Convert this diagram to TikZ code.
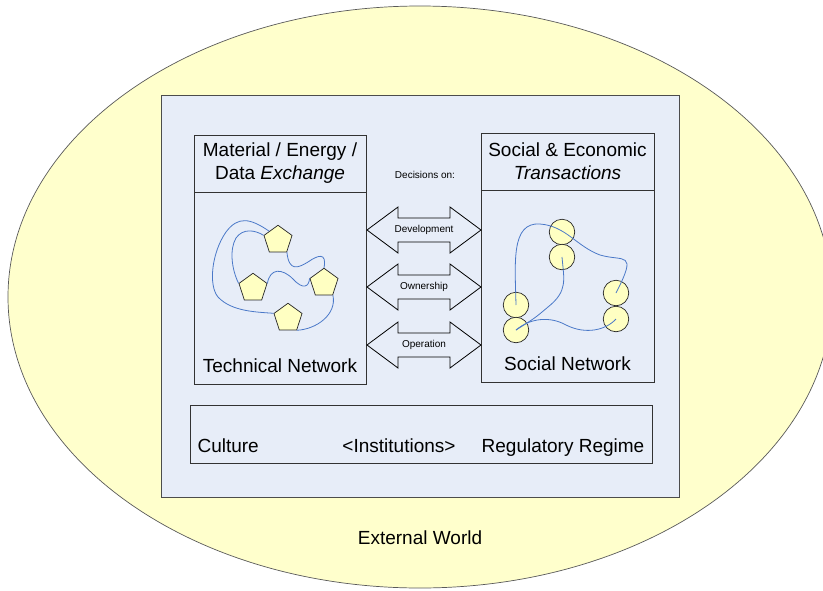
\documentclass[tikz,border=0pt]{standalone}
\usepackage{fontspec}
\setmainfont{Liberation Sans}
\usetikzlibrary{positioning, shapes.geometric}

\definecolor{worldfill}{HTML}{FFFFCC}
\definecolor{sysfill}{HTML}{E7EDF8}
\definecolor{nodefill}{HTML}{FFFFC2}
\definecolor{linkblue}{HTML}{4A78C8}

\begin{document}
\begin{tikzpicture}[x=1pt, y=-1pt,
        panel/.style={draw=black!80, fill=sysfill, line width=0.8pt, inner sep=0pt},
        big/.style={font=\fontsize{19}{23}\selectfont},
        small/.style={font=\fontsize{10}{12}\selectfont},
        device/.style={draw=black!85, fill=nodefill, regular polygon, regular polygon sides=5,
            minimum size=29.5pt, inner sep=0pt, line width=0.7pt},
        actor/.style={draw=black!85, fill=nodefill, circle, minimum size=25.5pt,
            inner sep=0pt, line width=0.7pt},
        link/.style={draw=linkblue, line width=0.8pt},
        twoway/.style={draw=black, fill=sysfill, line width=0.8pt, line join=miter}]

        \useasboundingbox (0,0) rectangle (823,590);

        % the world around the system
        \draw[fill=worldfill, draw=black!65, line width=0.7pt] (420,297) ellipse [x radius=412pt, y radius=291pt];
        \node[big] (external) at (420,538) {External World};

        \node[panel, draw=black!70, minimum width=518pt, minimum height=402pt] (system) at (420,296) {};

        % technical side
        \node[panel, big, align=center, minimum width=172pt, minimum height=57pt] (techhead) at (280,163.5)
            {Material / Energy /\\ Data \textit{Exchange}};
        \node[panel, minimum width=172pt, minimum height=192pt, below=0pt of techhead] (techbody) {};
        \node[big] (technet) at (280,366) {Technical Network};

        % social side
        \node[panel, big, align=center, minimum width=173pt, minimum height=57pt] (sochead) at (567.5,161.5)
            {Social \& Economic\\ \textit{Transactions}};
        \node[panel, minimum width=173pt, minimum height=192pt, below=0pt of sochead] (socbody) {};
        \node[big] (socnet) at (567.5,364) {Social Network};

        % decisions between the two
        \node[small] (decide) at (425,175) {Decisions on:};
        \foreach \y/\what/\nm in {230/Development/dev, 287/Ownership/own, 345/Operation/ops}{
                \draw[twoway] (367,\y) -- (398,\y-23) -- (398,\y-12) -- (450,\y-12) -- (450,\y-23)
                    -- (481,\y) -- (450,\y+23) -- (450,\y+12) -- (398,\y+12) -- (398,\y+23) -- cycle;
                \node[small] (\nm) at (424,\y) {\what};
            }

        % institutions
        \node[panel, minimum width=462pt, minimum height=58pt] (inst) at (421,434) {};
        \node[big, anchor=base west] (culture) at (194,452) {Culture};
        \node[big, anchor=base] (institutions) at (399,452) {<Institutions>};
        \node[big, anchor=base] (regime) at (563,452) {Regulatory Regime};

        % technical network
        \node[device] (p1) at (278,240) {};
        \node[device] (p2) at (253,288) {};
        \node[device] (p3) at (324,283) {};
        \node[device] (p4) at (288,318) {};

        \draw[link] (p1.north west) .. controls (250,218) and (238,216) .. (226,232)
            .. controls (212,252) and (208,285) .. (218,297)
            .. controls (232,312) and (258,312) .. (p4.corner 2);
        \draw[link] (p1.corner 2) .. controls (255,230) and (243,228) .. (236,238)
            .. controls (229,250) and (232,270) .. (p2.corner 2);
        \draw[link] (p1.corner 4) .. controls (289,272) and (298,268) .. (308,262)
            .. controls (318,255) and (327,252) .. (p3.corner 1);
        \draw[link] (p2.corner 5) .. controls (270,268) and (282,268) .. (293,279)
            .. controls (303,290) and (309,287) .. (p3.corner 2);
        \draw[link] (p3.corner 4) to[out=-78, in=3] (p4.corner 4);

        % social network
        \node[actor] (c1) at (562,232) {};
        \node[actor] (c2) at (562,257) {};
        \node[actor] (c3) at (516,305) {};
        \node[actor] (c4) at (516,330) {};
        \node[actor] (c5) at (616,293) {};
        \node[actor] (c6) at (616,319) {};

        \draw[link] (c3.center) .. controls (515,262) and (511,222) .. (540,224)
            .. controls (566,226) and (576,246) .. (600,255)
            .. controls (624,262) and (638,250) .. (c5.center);
        \draw[link] (c2.center) .. controls (564,280) and (568,291) .. (548,307)
            .. controls (535,318) .. (c4.center);
        \draw[link] (c4.center) .. controls (530,318) and (550,316) .. (566,325)
            .. controls (586,335) and (606,330) .. (c6.center);

    \end{tikzpicture}
\end{document}
